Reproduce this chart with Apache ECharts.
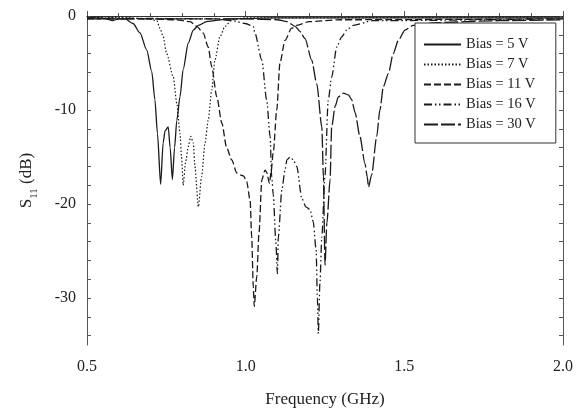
<!DOCTYPE html>
<html>
<head>
<meta charset="utf-8">
<script src="https://cdn.jsdelivr.net/npm/echarts@6/dist/echarts.min.js"></script>
<style>html,body{margin:0;padding:0;background:#fff;}#chart{width:578px;height:417px;}</style>
</head>
<body>
<div id="chart"></div>
<script>
// Frequency (GHz), S11 (dB)
const bias5 = [[0.50,-0.2],[0.54,-0.2],[0.56,-0.3],[0.58,-0.5],[0.60,-0.3],[0.62,-0.3],[0.645,-0.8],[0.667,-1.8],[0.688,-3.6],[0.704,-5.9],[0.714,-8.9],[0.722,-12.5],[0.732,-17.9],[0.740,-13.5],[0.746,-12.2],[0.756,-11.8],[0.762,-14.0],[0.769,-17.4],[0.776,-14.0],[0.783,-11.1],[0.793,-8.6],[0.803,-5.7],[0.819,-2.9],[0.835,-1.5],[0.851,-1.0],[0.877,-0.6],[0.95,-0.3],[1.10,-0.2],[2.00,-0.2]];
const bias7 = [[0.50,-0.1],[0.60,-0.15],[0.66,-0.25],[0.70,-0.35],[0.72,-0.5],[0.73,-1.3],[0.74,-2.2],[0.751,-4.0],[0.772,-6.5],[0.783,-9.3],[0.793,-12.5],[0.798,-15.0],[0.803,-18.0],[0.811,-15.5],[0.819,-13.9],[0.827,-12.8],[0.835,-13.5],[0.840,-16.0],[0.851,-20.3],[0.861,-17.1],[0.872,-13.5],[0.882,-11.1],[0.893,-7.9],[0.903,-4.7],[0.919,-2.2],[0.935,-1.1],[0.956,-0.4],[1.00,-0.2],[2.00,-0.1]];
const bias11 = [[0.50,-0.3],[0.70,-0.3],[0.78,-0.4],[0.825,-0.6],[0.846,-1.1],[0.866,-1.8],[0.882,-3.3],[0.893,-5.4],[0.909,-8.6],[0.925,-11.4],[0.940,-14.0],[0.956,-15.3],[0.972,-16.7],[0.982,-16.9],[0.993,-17.0],[1.003,-17.6],[1.014,-19.6],[1.019,-23.5],[1.024,-28.8],[1.027,-30.9],[1.035,-27.7],[1.042,-23.1],[1.051,-17.4],[1.061,-16.4],[1.066,-16.6],[1.075,-17.8],[1.080,-16.6],[1.087,-14.5],[1.098,-10.0],[1.108,-5.0],[1.124,-2.6],[1.145,-1.3],[1.161,-1.0],[1.20,-0.6],[1.30,-0.4],[2.00,-0.3]];
const bias16 = [[0.50,-0.2],[0.90,-0.3],[0.96,-0.5],[0.998,-0.8],[1.024,-1.1],[1.029,-1.8],[1.051,-4.7],[1.066,-8.9],[1.077,-12.8],[1.082,-17.1],[1.087,-19.0],[1.095,-24.0],[1.100,-27.4],[1.103,-23.5],[1.114,-18.5],[1.124,-16.4],[1.130,-15.3],[1.140,-15.0],[1.150,-15.3],[1.161,-16.0],[1.177,-19.4],[1.190,-20.3],[1.203,-20.6],[1.213,-21.9],[1.222,-24.9],[1.226,-30.0],[1.229,-33.8],[1.234,-28.4],[1.240,-23.5],[1.250,-17.0],[1.260,-9.0],[1.271,-6.5],[1.287,-3.3],[1.303,-2.2],[1.318,-1.5],[1.339,-1.0],[1.40,-0.5],[2.00,-0.3]];
const bias30 = [[0.50,-0.3],[1.00,-0.3],[1.10,-0.4],[1.13,-0.6],[1.156,-1.1],[1.170,-1.6],[1.187,-2.4],[1.208,-4.7],[1.224,-7.2],[1.240,-11.8],[1.245,-17.1],[1.250,-26.5],[1.256,-22.0],[1.266,-17.4],[1.271,-11.8],[1.282,-9.6],[1.292,-8.6],[1.308,-8.2],[1.324,-8.4],[1.334,-8.9],[1.345,-10.3],[1.360,-12.8],[1.376,-15.7],[1.383,-17.1],[1.387,-18.2],[1.397,-16.9],[1.413,-12.8],[1.423,-10.0],[1.434,-7.5],[1.450,-6.1],[1.465,-4.0],[1.481,-2.6],[1.502,-1.5],[1.528,-1.0],[1.60,-0.7],[1.80,-0.5],[2.00,-0.4]];

const seriesNames = ['Bias = 5 V','Bias = 7 V','Bias = 11 V','Bias = 16 V','Bias = 30 V'];
const seriesData = [bias5, bias7, bias11, bias16, bias30];
const yTickValues = [0,-2,-4,-6,-8,-10,-12,-14,-16,-18,-20,-22,-24,-26,-28,-30,-32,-34];
const yLabelValues = [0,-10,-20,-30];

const FONT = 'Liberation Serif';
const lineTypes = ['solid', [1.5,2], [7,3], [8,3,1.5,2.5,1.5,3], [14,3]];
const lineWidths = [1.3, 1.2, 1.3, 1.3, 1.3];

const chart = echarts.init(document.getElementById('chart'), null, {renderer:'canvas'});
chart.setOption({
  animation: false,
  backgroundColor: '#fff',
  grid: {left: 87, right: 15, top: 16, bottom: 72, containLabel: false},
  legend: {
    orient: 'vertical', left: 415, top: 23,
    padding: [14, 20, 11, 8],
    itemWidth: 37, itemHeight: 14, itemGap: 5,
    backgroundColor: '#fff', borderColor: '#333', borderWidth: 1, borderRadius: 0,
    itemStyle: {opacity: 0},
    textStyle: {fontFamily: FONT, fontSize: 14.5, color: '#222'},
    data: seriesNames
  },
  xAxis: [{
    type: 'value', min: 0.5, max: 2.0, interval: 0.5,
    axisLine: {lineStyle: {color: '#555', width: 1}},
    axisTick: {inside: true, length: 5, lineStyle: {color: '#555'}},
    minorTick: {show: true, splitNumber: 5, length: 3, lineStyle: {color: '#555'}},
    splitLine: {show: false},
    axisLabel: {fontFamily: FONT, fontSize: 16, color: '#222', margin: 14, formatter: v => v.toFixed(1)},
    name: 'Frequency (GHz)', nameLocation: 'middle', nameGap: 46,
    nameTextStyle: {fontFamily: FONT, fontSize: 17, color: '#222'}
  }, {
    type: 'value', position: 'top', min: 0.5, max: 2.0, interval: 0.5,
    axisLine: {show: true, lineStyle: {color: '#333', width: 1}},
    axisTick: {show: false}, axisLabel: {show: false}, splitLine: {show: false}
  }],
  yAxis: [{
    type: 'value', min: -35, max: 0,
    axisLine: {show: true, lineStyle: {color: '#555', width: 1}},
    axisTick: {show: true, inside: true, length: 4, customValues: yTickValues, lineStyle: {color: '#555'}},
    splitLine: {show: false},
    axisLabel: {fontFamily: FONT, fontSize: 16, color: '#222', margin: 11, customValues: yLabelValues},
    name: '{a|S}{b|11}{a| (dB)}', nameLocation: 'middle', nameGap: 50, nameRotate: 90,
    nameTextStyle: {
      fontFamily: FONT, fontSize: 17, color: '#222',
      rich: {
        a: {fontFamily: FONT, fontSize: 17, color: '#222', lineHeight: 20},
        b: {fontFamily: FONT, fontSize: 11, color: '#222', verticalAlign: 'bottom', lineHeight: 12, padding: [0,0,-3,0]}
      }
    }
  }, {
    type: 'value', min: -35, max: 0, position: 'right',
    axisLine: {show: true, lineStyle: {color: '#555', width: 1}},
    axisTick: {show: true, inside: true, length: 4, customValues: yTickValues, lineStyle: {color: '#555'}},
    axisLabel: {show: false}, splitLine: {show: false}
  }],
  series: seriesData.map((d, i) => ({
    name: seriesNames[i], type: 'line', data: d,
    xAxisIndex: 0, yAxisIndex: 0,
    showSymbol: false, symbol: 'none', smooth: 0.25, smoothMonotone: 'x',
    lineStyle: {color: '#1a1a1a', width: lineWidths[i], type: lineTypes[i]},
    itemStyle: {color: '#1a1a1a'},
    emphasis: {disabled: true}
  }))
});
</script>
</body>
</html>
